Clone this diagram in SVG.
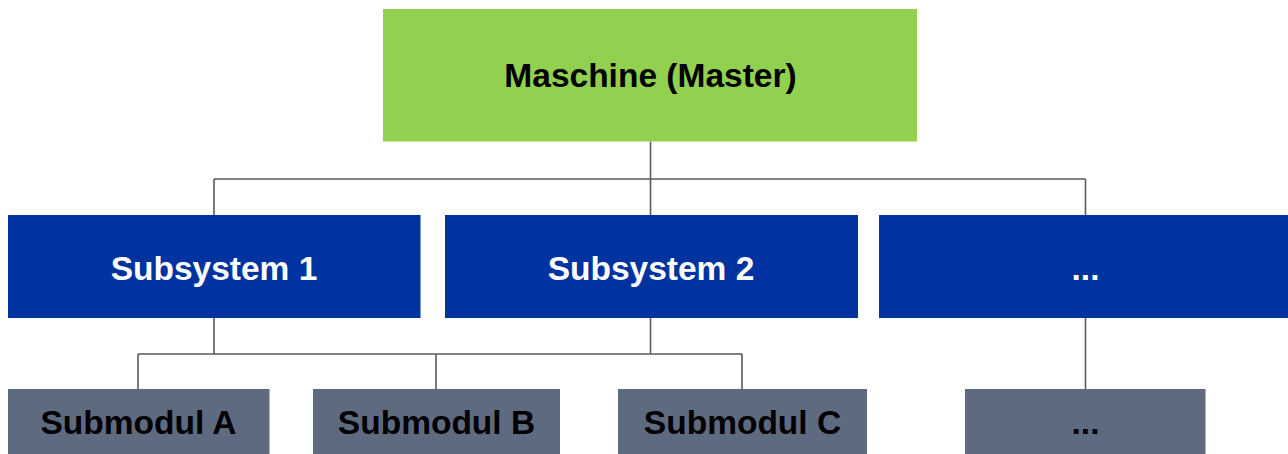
<svg xmlns="http://www.w3.org/2000/svg" width="1288" height="454" viewBox="0 0 1288 454">
<style>
.master{fill:#92D050}
.sub{fill:#0033A0}
.mod{fill:#5E6A80}
.t{font-family:"Liberation Sans",Arial,sans-serif;font-weight:bold;font-size:33.5px;text-anchor:middle}
.dark{fill:#000}
.light{fill:#fff}
.conn{fill:none;stroke:#5a5a5a;stroke-width:1.6}
</style>
<rect width="1288" height="454" fill="#fff"/>
<g id="connectors" class="conn">
<path d="M650.5 141.5V179M214 179H1085.5M214 179V215M650.5 179V215M1085.5 179V215"/>
<path d="M214 318V354M138 354H742M138 354V389M436 354V389M650.5 318V354M742 354V389"/>
<path d="M1085.5 318V389"/>
</g>
<g id="master">
<rect class="master" x="383" y="9" width="534" height="132.5"/>
<text class="t dark" x="650.5" y="87">Maschine (Master)</text>
</g>
<g id="subsystem1">
<rect class="sub" x="8" y="215" width="412.5" height="103"/>
<text class="t light" x="214" y="280">Subsystem 1</text>
</g>
<g id="subsystem2">
<rect class="sub" x="445" y="215" width="413" height="103"/>
<text class="t light" x="651" y="280">Subsystem 2</text>
</g>
<g id="subsystem3">
<rect class="sub" x="879" y="215" width="409" height="103"/>
<text class="t light" x="1085.5" y="280">...</text>
</g>
<g id="submodulA">
<rect class="mod" x="8" y="389" width="261.5" height="65"/>
<text class="t dark" x="138.5" y="434">Submodul A</text>
</g>
<g id="submodulB">
<rect class="mod" x="313" y="389" width="247" height="65"/>
<text class="t dark" x="436.5" y="434">Submodul B</text>
</g>
<g id="submodulC">
<rect class="mod" x="618" y="389" width="249" height="65"/>
<text class="t dark" x="742.5" y="434">Submodul C</text>
</g>
<g id="submodul4">
<rect class="mod" x="965" y="389" width="240.5" height="65"/>
<text class="t dark" x="1085.5" y="434">...</text>
</g>
</svg>
